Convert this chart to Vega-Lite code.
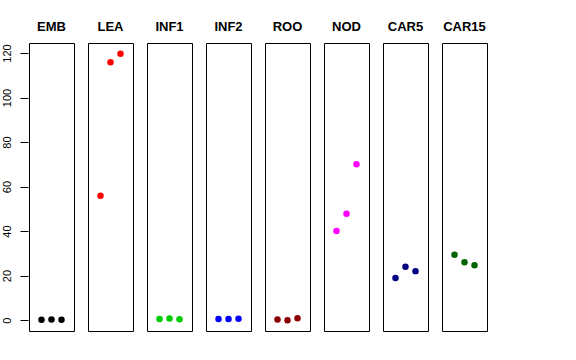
{
  "$schema": "https://vega.github.io/schema/vega-lite/v6.json",
  "background": "white",
  "padding": {"left": 0, "top": 21, "right": 5, "bottom": 5},
  "data": {"values": [
    {"tissue": "EMB", "i": 1, "v": 0.2}, {"tissue": "EMB", "i": 2, "v": 0.3}, {"tissue": "EMB", "i": 3, "v": 0.2},
    {"tissue": "LEA", "i": 1, "v": 55.9}, {"tissue": "LEA", "i": 2, "v": 115.8}, {"tissue": "LEA", "i": 3, "v": 119.7},
    {"tissue": "INF1", "i": 1, "v": 0.5}, {"tissue": "INF1", "i": 2, "v": 0.7}, {"tissue": "INF1", "i": 3, "v": 0.4},
    {"tissue": "INF2", "i": 1, "v": 0.5}, {"tissue": "INF2", "i": 2, "v": 0.5}, {"tissue": "INF2", "i": 3, "v": 0.6},
    {"tissue": "ROO", "i": 1, "v": 0.3}, {"tissue": "ROO", "i": 2, "v": -0.1}, {"tissue": "ROO", "i": 3, "v": 0.8},
    {"tissue": "NOD", "i": 1, "v": 40.0}, {"tissue": "NOD", "i": 2, "v": 47.8}, {"tissue": "NOD", "i": 3, "v": 70.0},
    {"tissue": "CAR5", "i": 1, "v": 18.9}, {"tissue": "CAR5", "i": 2, "v": 24.0}, {"tissue": "CAR5", "i": 3, "v": 22.0},
    {"tissue": "CAR15", "i": 1, "v": 29.4}, {"tissue": "CAR15", "i": 2, "v": 26.0}, {"tissue": "CAR15", "i": 3, "v": 24.6}
  ]},
  "facet": {
    "column": {
      "field": "tissue", "type": "nominal",
      "sort": ["EMB", "LEA", "INF1", "INF2", "ROO", "NOD", "CAR5", "CAR15"],
      "header": {"title": null, "labelFont": "Liberation Sans", "labelFontWeight": "bold", "labelFontSize": 13, "labelColor": "black", "labelPadding": 8}
    }
  },
  "spacing": 12,
  "spec": {
    "width": 45,
    "height": 288,
    "mark": {"type": "point", "filled": true, "size": 42, "opacity": 1},
    "encoding": {
      "x": {"field": "i", "type": "quantitative", "scale": {"domain": [-0.25, 4.25], "nice": false, "zero": false}, "axis": null},
      "y": {"field": "v", "type": "quantitative", "title": null,
        "scale": {"domain": [-4.9, 124.5], "nice": false, "zero": false},
        "axis": {"values": [0, 20, 40, 60, 80, 100, 120], "grid": false, "domain": false, "tickSize": 8, "labelAngle": -90, "labelAlign": "center", "labelBaseline": "bottom", "labelPadding": 8, "labelFont": "Liberation Sans", "labelFontSize": 11, "labelColor": "black", "tickColor": "black"}},
      "color": {"field": "tissue", "type": "nominal", "legend": null,
        "scale": {"domain": ["EMB", "LEA", "INF1", "INF2", "ROO", "NOD", "CAR5", "CAR15"],
          "range": ["#000000", "#FF0000", "#00CD00", "#0000FF", "#8B0000", "#FF00FF", "#000080", "#006400"]}}
    }
  },
  "config": {"view": {"stroke": "black", "strokeWidth": 1}}
}
